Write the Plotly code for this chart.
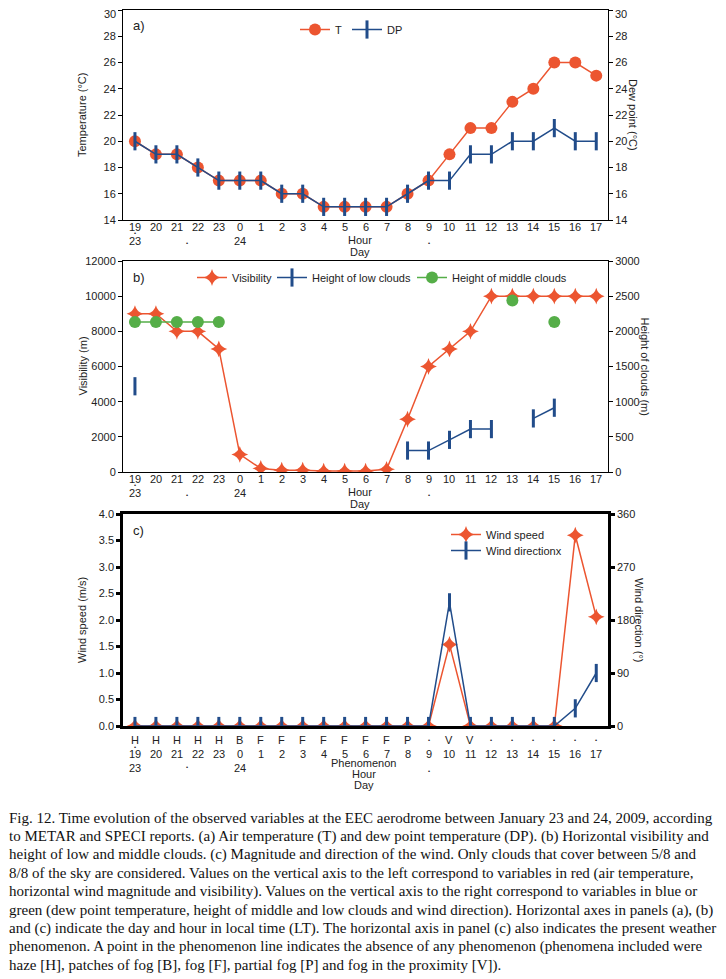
import plotly.graph_objects as go

# page body has an 8px margin, so the figure is 8px smaller and positions are shifted
OFF = 8
W, H = 726 - OFF, 979 - OFF

# ---------------- data ----------------
hours = ["19", "20", "21", "22", "23", "0", "1", "2", "3", "4", "5", "6", "7",
         "8", "9", "10", "11", "12", "13", "14", "15", "16", "17"]
day_labels = [(0, "23"), (2.5, "•"), (5, "24"), (14, "•")]
phenomenon = ["H", "H", "H", "H", "H", "B", "F", "F", "F", "F", "F", "F", "F",
              "P", "•", "V", "V", "•", "•", "•", "•", "•", "•"]

temp_ticks = [14, 16, 18, 20, 22, 24, 26, 28, 30]

temperature = [20, 19, 19, 18, 17, 17, 17, 16, 16, 15, 15, 15, 15,
               16, 17, 19, 21, 21, 23, 24, 26, 26, 25]
dew_point = [20, 19, 19, 18, 17, 17, 17, 16, 16, 15, 15, 15, 15,
             16, 17, 17, 19, 19, 20, 20, 21, 20, 20]

visibility = [9000, 9000, 8000, 8000, 7000, 1000, 200, 100, 100, 50, 50, 50, 150,
              3000, 6000, 7000, 8000, 10000, 10000, 10000, 10000, 10000, 10000]
low_clouds = [1219, None, None, None, None, None, None, None, None, None, None, None, None,
              305, 305, 457, 610, 610, None, 762, 914, None, None]
middle_clouds = [2134, 2134, 2134, 2134, 2134, None, None, None, None, None, None, None, None,
                 None, None, None, None, None, 2438, None, 2134, None, None]

wind_speed = [0, 0, 0, 0, 0, 0, 0, 0, 0, 0, 0, 0, 0,
              0, 0, 1.54, 0, 0, 0, 0, 0, 3.6, 2.06]
wind_dir = [0, 0, 0, 0, 0, 0, 0, 0, 0, 0, 0, 0, 0,
            0, 0, 210, 0, 0, 0, 0, 0, 30, 90]

caption_lines = [
    "Fig. 12. Time evolution of the observed variables at the EEC aerodrome between January 23 and 24, 2009, according",
    "to METAR and SPECI reports. (a) Air temperature (T) and dew point temperature (DP). (b) Horizontal visibility and",
    "height of low and middle clouds. (c) Magnitude and direction of the wind. Only clouds that cover between 5/8 and",
    "8/8 of the sky are considered. Values on the vertical axis to the left correspond to variables in red (air temperature,",
    "horizontal wind magnitude and visibility). Values on the vertical axis to the right correspond to variables in blue or",
    "green (dew point temperature, height of middle and low clouds and wind direction). Horizontal axes in panels (a), (b)",
    "and (c) indicate the day and hour in local time (LT). The horizontal axis in panel (c) also indicates the present weather",
    "phenomenon. A point in the phenomenon line indicates the absence of any phenomenon (phenomena included were",
    "haze [H], patches of fog [B], fog [F], partial fog [P] and fog in the proximity [V]).",
]

# ---------------- style ----------------
RED = "#EC5530"
BLUE = "#214C8A"
GREEN = "#55AE48"
FONT = "Liberation Sans, Arial, sans-serif"
SERIF = "Liberation Serif, Times New Roman, serif"

def px_x(p):
    return (p - OFF) / W

def px_y(p):
    return 1 - (p - OFF) / H

XDOM = [px_x(123), px_x(608)]
PANELS = {"a": (10, 220), "b": (261, 472), "c": (514, 726)}
xi = list(range(len(hours)))

fig = go.Figure()

# panel a
fig.add_trace(go.Scatter(x=xi, y=temperature, name="T", mode="lines+markers",
                         line=dict(color=RED, width=1.5),
                         marker=dict(symbol="circle", size=12, color=RED),
                         xaxis="x", yaxis="y", legend="legend"))
fig.add_trace(go.Scatter(x=xi, y=dew_point, name="DP", mode="lines+markers",
                         line=dict(color=BLUE, width=1.5),
                         marker=dict(symbol="line-ns", size=13, line=dict(color=BLUE, width=3)),
                         xaxis="x", yaxis="y2", legend="legend"))

# panel b
fig.add_trace(go.Scatter(x=xi, y=visibility, name="Visibility", mode="lines+markers",
                         line=dict(color=RED, width=1.5),
                         marker=dict(symbol="star-diamond", size=12, color=RED),
                         xaxis="x2", yaxis="y3", legend="legend2"))
fig.add_trace(go.Scatter(x=xi, y=low_clouds, name="Height of low clouds", mode="lines+markers",
                         line=dict(color=BLUE, width=1.5), connectgaps=False,
                         marker=dict(symbol="line-ns", size=13, line=dict(color=BLUE, width=3)),
                         xaxis="x2", yaxis="y4", legend="legend4"))
fig.add_trace(go.Scatter(x=xi, y=middle_clouds, name="Height of middle clouds", mode="lines+markers",
                         line=dict(color=GREEN, width=1.5), connectgaps=False,
                         marker=dict(symbol="circle", size=12, color=GREEN),
                         xaxis="x2", yaxis="y4", legend="legend5"))

# panel c
fig.add_trace(go.Scatter(x=xi, y=wind_speed, name="Wind speed", mode="lines+markers",
                         line=dict(color=RED, width=1.5),
                         marker=dict(symbol="star-diamond", size=12, color=RED),
                         xaxis="x3", yaxis="y5", legend="legend3"))
fig.add_trace(go.Scatter(x=xi, y=wind_dir, name="Wind directionx", mode="lines+markers",
                         line=dict(color=BLUE, width=1.5),
                         marker=dict(symbol="line-ns", size=13, line=dict(color=BLUE, width=3)),
                         xaxis="x3", yaxis="y6", legend="legend6"))

tickfont = dict(family=FONT, size=11, color="#222")

def xax(anchor, lw):
    return dict(domain=XDOM, anchor=anchor, range=[-0.57, 22.56], showticklabels=False,
                ticks="", showgrid=False, zeroline=False, showline=True, mirror=True,
                linecolor="black", linewidth=lw)

def yax(dom, rng, dtick, lw, side="left", overlay=None, anchor=None, fmt=None):
    d = dict(domain=[px_y(dom[1]), px_y(dom[0])], range=rng, dtick=dtick, tick0=0,
             side=side, showgrid=False, zeroline=False, showline=True,
             linecolor="black", linewidth=lw, ticks="outside", ticklen=4,
             tickwidth=lw, tickcolor="black", tickfont=tickfont, anchor=anchor,
             ticklabeloverflow="allow")
    if overlay:
        d["overlaying"] = overlay
    if fmt:
        d["tickformat"] = fmt
    return d

# panel a: top label "30" drawn separately (just below the page edge) so it is not clipped
temp_text = [str(t) if t != temp_ticks[-1] else "" for t in temp_ticks]

def leg(x, y, orient="h"):
    return dict(orientation=orient, x=px_x(x), y=px_y(y), xanchor="left", yanchor="top",
                font=dict(family=FONT, size=11, color="#222"), bgcolor="rgba(0,0,0,0)",
                itemwidth=30, tracegroupgap=0)

ya = yax(PANELS["a"], [14, 30], 2, 1, anchor="x")
ya.update(tickmode="array", tickvals=temp_ticks, ticktext=temp_text)
ya2 = yax(PANELS["a"], [14, 30], 2, 1, side="right", overlay="y", anchor="x")
ya2.update(tickmode="array", tickvals=temp_ticks, ticktext=temp_text)

fig.update_layout(
    width=W, height=H, margin=dict(l=0, r=0, t=0, b=0, autoexpand=False),
    paper_bgcolor="white", plot_bgcolor="white",
    xaxis=xax("y", 1), xaxis2=xax("y3", 1), xaxis3=xax("y5", 2.5),
    yaxis=ya, yaxis2=ya2,
    yaxis3=yax(PANELS["b"], [0, 12000], 2000, 1, anchor="x2", fmt="d"),
    yaxis4=yax(PANELS["b"], [0, 3000], 500, 1, side="right", overlay="y3", anchor="x2", fmt="d"),
    yaxis5=yax(PANELS["c"], [0, 4], 0.5, 2.5, anchor="x3", fmt=".1f"),
    yaxis6=yax(PANELS["c"], [0, 360], 90, 2.5, side="right", overlay="y5", anchor="x3"),
    legend=leg(295, 15),
    legend2=leg(192, 263),
    legend4=leg(272, 263),
    legend5=leg(412, 263),
    legend3=leg(446, 520),
    legend6=leg(446, 536),
    showlegend=True,
)

ann = []

# top "30" labels of panel a
for xd, xa in ((0, "right"), (1, "left")):
    ann.append(dict(x=xd, y=temp_ticks[-1], xref="x domain", yref="y", text=str(temp_ticks[-1]),
                    showarrow=False, xanchor=xa, yanchor="top", yshift=4,
                    xshift=-5 if xa == "right" else 5,
                    font=dict(family=FONT, size=11, color="#222")))

def label(x, xref, yref, shift, text, size=11):
    ann.append(dict(x=x, y=0, xref=xref, yref=yref, yshift=-shift, text=text,
                    showarrow=False, xanchor="center", yanchor="middle",
                    font=dict(family=FONT, size=size, color="#222")))

# x-axis labels panels a, b
for xr, yr in (("x", "y domain"), ("x2", "y3 domain")):
    for i, h in enumerate(hours):
        label(i, xr, yr, 7, h)
    label(0, xr, yr, 13, "•", size=6)
    for xpos, t in day_labels:
        label(xpos, xr, yr, 21 if t != "•" else 23, t, size=11 if t != "•" else 6)
    label(10.75, xr, yr, 20, "Hour")
    label(10.75, xr, yr, 32, "Day")

# panel c labels
for i, p in enumerate(phenomenon):
    label(i, "x3", "y5 domain", 14, p, size=11 if p != "•" else 6)
for i, h in enumerate(hours):
    label(i, "x3", "y5 domain", 28, h)
label(0, "x3", "y5 domain", 21, "•", size=6)
for xpos, t in day_labels:
    label(xpos, "x3", "y5 domain", 42 if t != "•" else (41 if xpos < 5 else 45), t,
          size=11 if t != "•" else 6)
label(10.9, "x3", "y5 domain", 37, "Phenomenon")
label(10.9, "x3", "y5 domain", 48, "Hour")
label(10.9, "x3", "y5 domain", 59, "Day")

# panel letters
for letter, (top, bot) in PANELS.items():
    ann.append(dict(x=px_x(131), y=px_y(top + 16), xref="paper", yref="paper",
                    text=letter + ")", showarrow=False, xanchor="left", yanchor="middle",
                    font=dict(family=FONT, size=13, color="#222")))

# axis titles
titles = [
    (82, "a", "Temperature (°C)", -90), (633, "a", "Dew point (°C)", 90),
    (82, "b", "Visibility (m)", -90), (645, "b", "Height of clouds (m)", 90),
    (82, "c", "Wind speed (m/s)", -90), (639, "c", "Wind direction (°)", 90),
]
for xp, pn, t, ang in titles:
    top, bot = PANELS[pn]
    ann.append(dict(x=px_x(xp), y=px_y((top + bot) / 2), xref="paper", yref="paper",
                    text=t, textangle=ang, showarrow=False, xanchor="center", yanchor="middle",
                    font=dict(family=FONT, size=11, color="#222")))

# caption
for i, line in enumerate(caption_lines):
    ann.append(dict(x=px_x(7), y=px_y(818 + i * 18.4), xref="paper", yref="paper",
                    text=line, showarrow=False, xanchor="left", yanchor="middle",
                    font=dict(family=SERIF, size=15, color="#111")))

fig.update_layout(annotations=ann)
fig.write_html("out.html")
